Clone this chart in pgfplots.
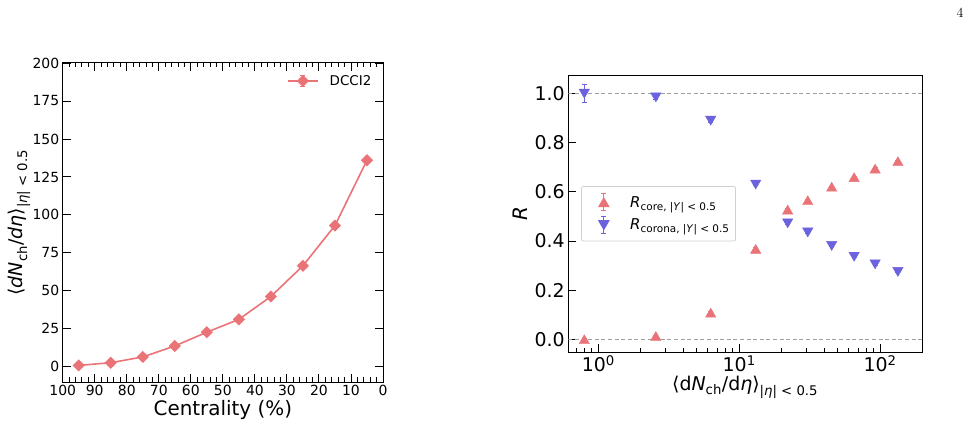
\documentclass[border=0pt]{standalone}
\usepackage{pgfplots}
\pgfplotsset{compat=1.18}
\usepackage{fontspec}
\newfontfamily\dv{DejaVu Sans}

\definecolor{corered}{RGB}{234,115,120}
\definecolor{coronablue}{RGB}{108,98,222}
\definecolor{refgray}{RGB}{160,160,160}

\begin{document}
\begin{tikzpicture}
\useasboundingbox (0,0) rectangle (974bp,426bp);

% ---------------- multiplicity vs centrality ----------------
\begin{axis}[
  at={(62.7bp,44bp)}, anchor=south west,
  scale only axis, width=320.3bp, height=319bp,
  xmin=0, xmax=100, x dir=reverse,
  ymin=-10, ymax=200,
  xtick={0,10,...,100}, minor xtick={0,2,...,100},
  ytick={0,25,...,200},
  tick align=inside,
  major tick length=8bp, minor tick length=4.5bp,
  axis line style={line width=1bp, black},
  every tick/.style={black, line width=0.9bp},
  /pgf/number format/assume math mode=true,
  tick label style={font=\dv\fontsize{14}{16}\selectfont},
  xlabel={Centrality (\%)},
  xlabel style={font=\dv\fontsize{20}{24}\selectfont,
    at={(axis description cs:0.5,-0.088)}, anchor=center},
  ylabel={⟨\textit{dN}\textsubscript{ch}/\textit{dη}⟩\textsubscript{|\textit{η}| < 0.5}},
  ylabel style={font=\dv\fontsize{19}{23}\selectfont,
    at={(axis description cs:-0.135,0.5)}, anchor=center},
  legend style={at={(axis description cs:0.70,0.9436)}, anchor=west,
    draw=none, fill=none, inner sep=0pt,
    font=\dv\fontsize{13.5}{15}\selectfont},
  legend cell align=left,
]
\addplot[color=corered, line width=1.6bp,
  mark=square*, mark size=3.5bp, mark options={rotate=45},
  legend image code/.code={
    \draw[mark=none, line width=1bp] (15bp,-5.5bp) -- (15bp,5.5bp)
      (12.5bp,-5.5bp) -- (17.5bp,-5.5bp) (12.5bp,5.5bp) -- (17.5bp,5.5bp);
    \draw[mark repeat=2, mark phase=2]
      plot coordinates {(0bp,0bp) (15bp,0bp) (30bp,0bp)};
    \path (39bp,0bp);
  }]
coordinates {
  (95,0.9) (85,2.7) (75,6.5) (65,13.7) (55,22.8)
  (45,31.2) (35,46.3) (25,66.5) (15,93.0) (5,136.0)
};
\addlegendentry{DCCI2}
\end{axis}

% ---------------- core / corona fractions ----------------
\begin{axis}[
  at={(568.3bp,74bp)}, anchor=south west,
  scale only axis, width=353.7bp, height=276bp,
  xmode=log, xmin=0.612, xmax=198.7,
  ymin=-0.052, ymax=1.072,
  xtick={1,10,100},
  xticklabels={10\textsuperscript{0},10\textsuperscript{1},10\textsuperscript{2}},
  minor xtick={0.7,0.8,0.9,2,3,4,5,6,7,8,9,20,30,40,50,60,70,80,90},
  ytick={0,0.2,0.4,0.6,0.8,1.0},
  yticklabel style={/pgf/number format/.cd, fixed, fixed zerofill, precision=1},
  xtick pos=lower, ytick pos=left,
  tick align=inside,
  major tick length=8bp, minor tick length=4bp,
  axis line style={line width=1bp, black},
  every tick/.style={black, line width=0.9bp},
  /pgf/number format/assume math mode=true,
  tick label style={font=\dv\fontsize{19}{22}\selectfont},
  xlabel={⟨d\textit{N}\textsubscript{ch}/d\textit{η}⟩\textsubscript{|\textit{η}| < 0.5}},
  xlabel style={font=\dv\fontsize{19}{23}\selectfont,
    at={(axis description cs:0.5,-0.128)}, anchor=center},
  ylabel={\textit{R}},
  ylabel style={font=\dv\fontsize{20}{24}\selectfont,
    at={(axis description cs:-0.136,0.5)}, anchor=center},
  legend style={at={(axis description cs:0.036,0.6014)}, anchor=north west,
    draw=black!18, fill=white, rounded corners=2bp, line width=0.8bp,
    inner xsep=4bp, inner ysep=7bp, row sep=5bp,
    font=\dv\fontsize{15}{17}\selectfont},
  legend cell align=left,
]
% reference levels
\addplot[refgray, dashed, line width=1bp, dash pattern=on 4bp off 2.6bp, forget plot]
  coordinates {(0.612,0) (198.7,0)};
\addplot[refgray, dashed, line width=1bp, dash pattern=on 4bp off 2.6bp, forget plot]
  coordinates {(0.612,1) (198.7,1)};

\addplot[only marks, color=corered, mark=triangle*, mark size=6bp,
  mark options={yshift=-1.5bp},
  error bars/.cd, y dir=both, y explicit,
  error bar style={line width=0.8bp, color=corered},
  error mark options={rotate=90, mark size=2.5bp, line width=0.8bp, color=corered},
  /pgfplots/legend image code/.code={
    \draw[mark=none, line width=0.8bp] (18bp,-8.5bp) -- (18bp,8.5bp)
      (15.5bp,-8.5bp) -- (20.5bp,-8.5bp) (15.5bp,8.5bp) -- (20.5bp,8.5bp);
    \draw[mark options={yshift=-1.5bp}] plot coordinates {(18bp,0bp)};
    \path (0bp,0bp) (42bp,0bp);
  }]
coordinates {
  (0.795,0.000) +- (0,0.005)
  (2.56,0.013)  +- (0,0.004)
  (6.28,0.108)  +- (0,0.004)
  (13.1,0.368)  +- (0,0.004)
  (22.1,0.528)  +- (0,0.003)
  (30.7,0.566)  +- (0,0.003)
  (45.4,0.621)  +- (0,0.003)
  (65.5,0.660)  +- (0,0.003)
  (92.3,0.695)  +- (0,0.003)
  (134.0,0.725) +- (0,0.003)
};
\addlegendentry{\textit{R}\textsubscript{core, |\textit{Y}| < 0.5}}

\addplot[only marks, color=coronablue, mark=triangle*, mark size=6bp,
  mark options={rotate=180, yshift=-1.5bp},
  error bars/.cd, y dir=both, y explicit,
  error bar style={line width=0.8bp, color=coronablue},
  error mark options={rotate=90, mark size=2.5bp, line width=0.8bp, color=coronablue},
  /pgfplots/legend image code/.code={
    \draw[mark=none, line width=0.8bp] (18bp,-8.5bp) -- (18bp,8.5bp)
      (15.5bp,-8.5bp) -- (20.5bp,-8.5bp) (15.5bp,8.5bp) -- (20.5bp,8.5bp);
    \draw[mark options={rotate=180, yshift=-1.5bp}] plot coordinates {(18bp,0bp)};
    \path (0bp,0bp) (42bp,0bp);
  }]
coordinates {
  (0.795,1.000) +- (0,0.036)
  (2.56,0.985)  +- (0,0.010)
  (6.28,0.890)  +- (0,0.006)
  (13.1,0.630)  +- (0,0.004)
  (22.1,0.472)  +- (0,0.003)
  (30.7,0.435)  +- (0,0.003)
  (45.4,0.380)  +- (0,0.003)
  (65.5,0.336)  +- (0,0.003)
  (92.3,0.305)  +- (0,0.003)
  (134.0,0.274) +- (0,0.003)
};
\addlegendentry{\textit{R}\textsubscript{corona, |\textit{Y}| < 0.5}}
\end{axis}

% page number
\node[font=\rmfamily\fontsize{14}{16}\selectfont] at (960bp,413bp) {4};
\end{tikzpicture}
\end{document}
